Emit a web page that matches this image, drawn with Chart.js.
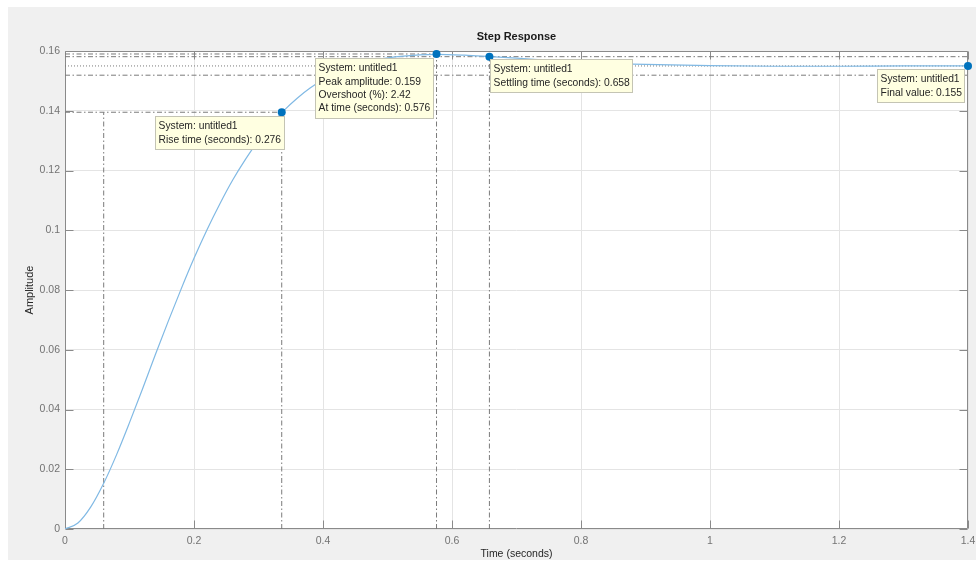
<!DOCTYPE html>
<html>
<head>
<meta charset="utf-8">
<title>Step Response</title>
<script src="https://cdn.jsdelivr.net/npm/chart.js@4/dist/chart.umd.min.js"></script>
<style>
  html, body { margin: 0; padding: 0; background: #ffffff; }
  #wrap { width: 976px; height: 562px; }
  canvas { display: block; }
</style>
</head>
<body>
<div id="wrap"><canvas id="stepChart" width="976" height="562"></canvas></div>
<script>
// Step response samples (time in seconds, amplitude)
const timeS = [0, 0.02, 0.04, 0.06, 0.08, 0.10, 0.12, 0.14, 0.16, 0.18, 0.20, 0.22, 0.24, 0.26,
  0.28, 0.30, 0.32, 0.34, 0.36, 0.38, 0.40, 0.44, 0.48, 0.52, 0.576, 0.62, 0.66, 0.70, 0.76,
  0.82, 0.90, 1.00, 1.10, 1.20, 1.30, 1.40];
const amplitude = [0, 0.0020, 0.0074, 0.0153, 0.0249, 0.0356, 0.0468, 0.0583, 0.0695, 0.0803,
  0.0906, 0.1001, 0.1088, 0.1168, 0.1238, 0.1301, 0.1355, 0.1402, 0.1442, 0.1476, 0.1504,
  0.1544, 0.1569, 0.1582, 0.1589, 0.1586, 0.1581, 0.1576, 0.1568, 0.1561, 0.1555, 0.1551,
  0.1549, 0.1549, 0.1550, 0.1550];

// Axis ticks
const xTickValues = [0, 0.2, 0.4, 0.6, 0.8, 1, 1.2, 1.4];
const xTickLabels = ['0', '0.2', '0.4', '0.6', '0.8', '1', '1.2', '1.4'];
const yTickValues = [0, 0.02, 0.04, 0.06, 0.08, 0.1, 0.12, 0.14, 0.16];
const yTickLabels = ['0', '0.02', '0.04', '0.06', '0.08', '0.1', '0.12', '0.14', '0.16'];

// Response characteristics
const systemName = 'untitled1';
const riseStart = 0.060;
const riseEnd = 0.336;
const riseLevel = 0.1395;
const peakTime = 0.576;
const peakAmplitude = 0.159;
const overshootPct = 2.42;
const settlingTime = 0.658;
const settlingLevel = 0.1581;
const settlingBand = [0.1519, 0.1581];
const finalValue = 0.155;
const endTime = 1.4;

const FONT = '"Liberation Sans", Arial, Helvetica, sans-serif';
const DASH_DOT = [5, 2.5, 1.5, 2.5];
const DOTTED = [1, 2];
const GUIDE = '#7a7a7a';

function seg(x0, y0, x1, y1, dash) {
  return {
    data: [{x: x0, y: y0}, {x: x1, y: y1}],
    borderColor: GUIDE, borderWidth: 1, borderDash: dash,
    pointRadius: 0, fill: false, tension: 0, order: 3
  };
}

const riseTime = (riseEnd - riseStart).toFixed(3);

const datatips = [
  { x: riseEnd, y: riseLevel, side: 'right', dx: 3.3, dy: 4,
    lines: ['System: ' + systemName, 'Rise time (seconds): ' + riseTime] },
  { x: peakTime, y: peakAmplitude, side: 'right', dx: -2.5, dy: 4,
    lines: ['System: ' + systemName, 'Peak amplitude: ' + peakAmplitude,
            'Overshoot (%): ' + overshootPct, 'At time (seconds): ' + peakTime] },
  { x: settlingTime, y: settlingLevel, side: 'left', dx: 1, dy: 2.6,
    lines: ['System: ' + systemName, 'Settling time (seconds): ' + settlingTime] },
  { x: endTime, y: finalValue, side: 'right', dx: -3, dy: 3,
    lines: ['System: ' + systemName, 'Final value: ' + finalValue] }
];

const backdrop = {
  id: 'backdrop',
  beforeDraw(chart) {
    const {ctx, chartArea: a} = chart;
    ctx.save();
    ctx.fillStyle = '#ffffff';
    ctx.fillRect(0, 0, chart.width, chart.height);
    ctx.fillStyle = '#f0f0f0';
    ctx.fillRect(8, 7, chart.width - 8, 553);
    ctx.fillStyle = '#ffffff';
    ctx.fillRect(a.left, a.top, a.right - a.left, a.bottom - a.top);
    ctx.restore();
  }
};

const axesFrame = {
  id: 'axesFrame',
  beforeDatasetsDraw(chart) {
    const {ctx, chartArea: a, scales} = chart;
    const L = Math.round(a.left) + 0.5, R = Math.round(a.right) - 0.5;
    const T = Math.round(a.top) + 0.5, B = Math.round(a.bottom) - 0.5;
    const len = 8;
    ctx.save();
    ctx.strokeStyle = '#8a8a8a';
    ctx.lineWidth = 1;
    ctx.beginPath();
    ctx.rect(L, T, R - L, B - T);
    xTickValues.forEach(v => {
      const px = Math.round(scales.x.getPixelForValue(v)) + 0.5;
      ctx.moveTo(px, B); ctx.lineTo(px, B - len);
      ctx.moveTo(px, T); ctx.lineTo(px, T + len);
    });
    yTickValues.forEach(v => {
      const py = Math.round(scales.y.getPixelForValue(v)) + 0.5;
      ctx.moveTo(L, py); ctx.lineTo(L + len, py);
      ctx.moveTo(R, py); ctx.lineTo(R - len, py);
    });
    ctx.stroke();
    ctx.restore();
  }
};

const datatipLayer = {
  id: 'datatipLayer',
  afterDatasetsDraw(chart) {
    const {ctx, scales} = chart;
    const size = 10.3, lineGap = 13.4, pad = 3.6, edge = 10.3;
    ctx.save();
    ctx.font = size + 'px ' + FONT;
    datatips.forEach(tip => {
      const px = scales.x.getPixelForValue(tip.x);
      const py = scales.y.getPixelForValue(tip.y);
      const w = Math.round(Math.max(...tip.lines.map(s => ctx.measureText(s).width)) + pad * 2);
      const h = Math.round(edge * 2 + (tip.lines.length - 1) * lineGap);
      const left = Math.round(tip.side === 'right' ? px + tip.dx - w : px + tip.dx);
      const top = Math.round(py + tip.dy);
      ctx.fillStyle = '#ffffe1';
      ctx.fillRect(left, top, w, h);
      ctx.strokeStyle = '#c4c4b4';
      ctx.lineWidth = 1;
      ctx.strokeRect(left + 0.5, top + 0.5, w - 1, h - 1);
      ctx.fillStyle = '#262626';
      ctx.textAlign = 'left';
      ctx.textBaseline = 'middle';
      tip.lines.forEach((s, i) => ctx.fillText(s, left + pad, top + edge + i * lineGap));
    });
    ctx.restore();
  }
};

const ctx = document.getElementById('stepChart').getContext('2d');
new Chart(ctx, {
  type: 'line',
  data: {
    datasets: [
      {
        label: systemName,
        data: timeS.map((t, i) => ({x: t, y: amplitude[i]})),
        borderColor: '#80b9e4', borderWidth: 1.2,
        pointRadius: 0, fill: false,
        cubicInterpolationMode: 'monotone', order: 2
      },
      // rise time guides
      seg(0, riseLevel, riseEnd, riseLevel, DASH_DOT),
      seg(riseStart, 0, riseStart, riseLevel, DASH_DOT),
      seg(riseEnd, 0, riseEnd, riseLevel, DASH_DOT),
      // peak guides
      seg(0, peakAmplitude, peakTime, peakAmplitude, DASH_DOT),
      seg(peakTime, 0, peakTime, peakAmplitude, DASH_DOT),
      // settling band and settling time
      seg(0, settlingBand[0], endTime, settlingBand[0], DASH_DOT),
      seg(0, settlingBand[1], endTime, settlingBand[1], DASH_DOT),
      seg(settlingTime, 0, settlingTime, settlingLevel, DASH_DOT),
      // final value
      seg(0, finalValue, endTime, finalValue, DOTTED),
      {
        label: 'characteristics',
        data: [
          {x: riseEnd, y: riseLevel},
          {x: peakTime, y: peakAmplitude},
          {x: settlingTime, y: settlingLevel},
          {x: endTime, y: finalValue}
        ],
        showLine: false, pointRadius: 4, pointStyle: 'circle',
        pointBackgroundColor: '#0072bd', pointBorderColor: '#0072bd', pointBorderWidth: 0,
        clip: false, order: 1
      }
    ]
  },
  options: {
    responsive: false,
    animation: false,
    events: [],
    devicePixelRatio: 1,
    layout: { padding: { left: 0, right: 8, top: 0, bottom: 0 } },
    plugins: {
      legend: { display: false },
      tooltip: { enabled: false },
      title: {
        display: true, text: 'Step Response', fullSize: false,
        color: '#1a1a1a',
        font: { family: FONT, size: 11, weight: 'bold', lineHeight: 1.2 },
        padding: { top: 30.4, bottom: 7.4 }
      }
    },
    scales: {
      x: {
        type: 'linear', min: 0, max: endTime,
        afterBuildTicks: s => { s.ticks = xTickValues.map(v => ({value: v})); },
        afterFit: s => { s.height = 33; s.paddingLeft = 0; s.paddingRight = 0; },
        grid: { color: '#e4e4e4', lineWidth: 1, drawTicks: false },
        border: { display: false },
        ticks: {
          autoSkip: false, maxRotation: 0, padding: 6, color: '#737373',
          font: { family: FONT, size: 10.5 },
          callback: (v, i) => xTickLabels[i]
        },
        title: {
          display: true, text: 'Time (seconds)', color: '#262626',
          font: { family: FONT, size: 10.5 },
          padding: { top: 0, bottom: 1.7 }
        }
      },
      y: {
        type: 'linear', min: 0, max: 0.16,
        afterBuildTicks: s => { s.ticks = yTickValues.map(v => ({value: v})); },
        afterFit: s => { s.width = 65; s.paddingTop = 0; s.paddingBottom = 0; },
        grid: { color: '#e4e4e4', lineWidth: 1, drawTicks: false },
        border: { display: false },
        ticks: {
          autoSkip: false, padding: 5, color: '#737373',
          font: { family: FONT, size: 10.5 },
          callback: (v, i) => yTickLabels[i]
        },
        title: {
          display: true, text: 'Amplitude', color: '#262626',
          font: { family: FONT, size: 11 },
          padding: { top: 23.4, bottom: 0 }
        }
      }
    }
  },
  plugins: [backdrop, axesFrame, datatipLayer]
});
</script>
</body>
</html>
